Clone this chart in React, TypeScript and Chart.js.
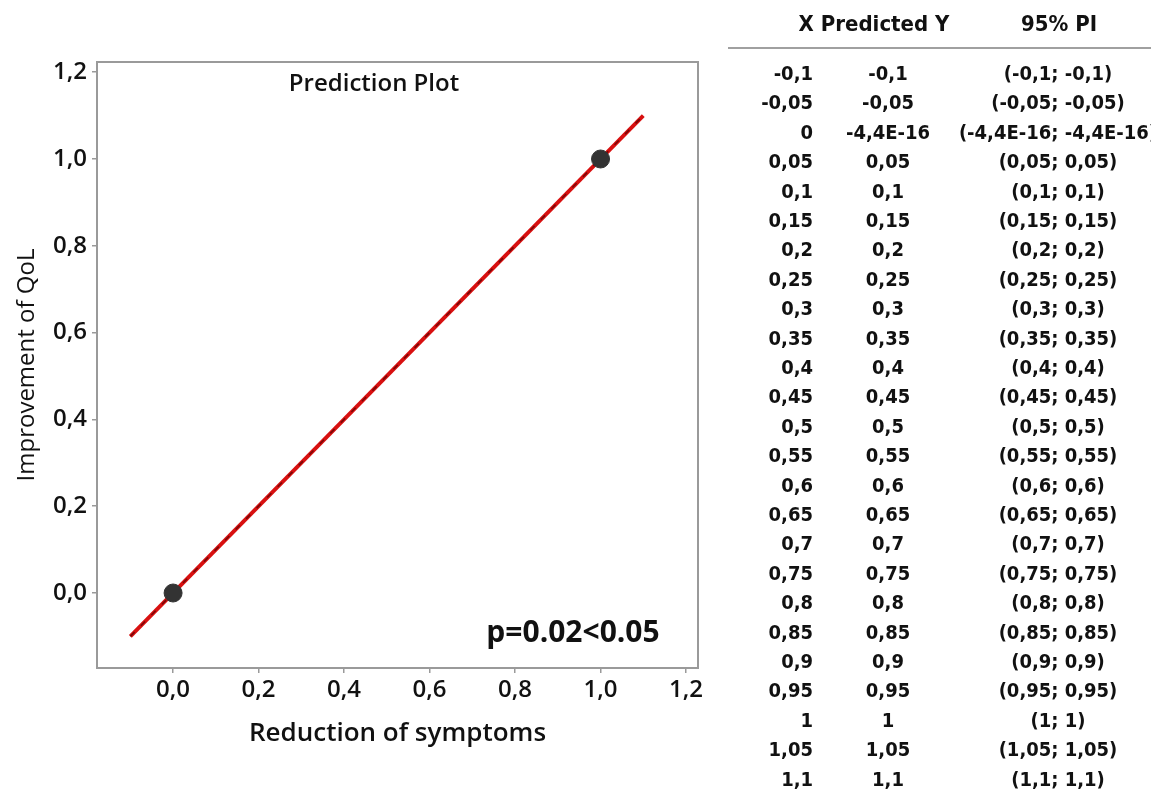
import React, { useEffect, useRef } from "react";
import { Chart, registerables } from "chart.js";

Chart.register(...registerables);

// Fitted line endpoints and observed points
const lineX = [-0.1, 1.1];
const lineY = [-0.1, 1.1];
const pointX = [0, 1];
const pointY = [0, 1];
const tickValues = [0, 0.2, 0.4, 0.6, 0.8, 1.0, 1.2];

// Prediction table
const tableX = ["-0,1", "-0,05", "0", "0,05", "0,1", "0,15", "0,2", "0,25", "0,3", "0,35", "0,4", "0,45", "0,5", "0,55", "0,6", "0,65", "0,7", "0,75", "0,8", "0,85", "0,9", "0,95", "1", "1,05", "1,1"];
const tablePred = ["-0,1", "-0,05", "-4,4E-16", "0,05", "0,1", "0,15", "0,2", "0,25", "0,3", "0,35", "0,4", "0,45", "0,5", "0,55", "0,6", "0,65", "0,7", "0,75", "0,8", "0,85", "0,9", "0,95", "1", "1,05", "1,1"];
const tablePI = ["(-0,1; -0,1)", "(-0,05; -0,05)", "(-4,4E-16; -4,4E-16)", "(0,05; 0,05)", "(0,1; 0,1)", "(0,15; 0,15)", "(0,2; 0,2)", "(0,25; 0,25)", "(0,3; 0,3)", "(0,35; 0,35)", "(0,4; 0,4)", "(0,45; 0,45)", "(0,5; 0,5)", "(0,55; 0,55)", "(0,6; 0,6)", "(0,65; 0,65)", "(0,7; 0,7)", "(0,75; 0,75)", "(0,8; 0,8)", "(0,85; 0,85)", "(0,9; 0,9)", "(0,95; 0,95)", "(1; 1)", "(1,05; 1,05)", "(1,1; 1,1)"];

const FONT = "'Open Sans', 'Noto Sans', sans-serif";
const TFONT = "'DejaVu Sans Condensed', 'DejaVu Sans', Verdana, sans-serif";

const fmt = (v: number) => v.toFixed(1).replace(".", ",");

const framePlugin = {
  id: "frame",
  afterDraw(chart: any) {
    const { ctx, chartArea } = chart;
    ctx.save();
    ctx.strokeStyle = "#9a9a9a";
    ctx.lineWidth = 2;
    ctx.strokeRect(chartArea.left, chartArea.top, chartArea.right - chartArea.left, chartArea.bottom - chartArea.top);
    ctx.fillStyle = "#111";
    ctx.textAlign = "center";
    ctx.textBaseline = "middle";
    ctx.font = `600 24px ${FONT}`;
    ctx.fillText("Prediction Plot", chartArea.left + 277, chartArea.top + 22);
    ctx.font = `700 30px ${FONT}`;
    ctx.fillText("p=0.02<0.05", chartArea.left + 476, chartArea.top + 571);
    ctx.restore();
  },
};

export default function App() {
  const ref = useRef<HTMLCanvasElement>(null);
  useEffect(() => {
    if (!ref.current) return;
    const chart = new Chart(ref.current, {
      type: "scatter",
      data: {
        datasets: [
          {
            type: "line",
            label: "fit",
            data: lineX.map((x, i) => ({ x, y: lineY[i] })),
            borderColor: "#d81010",
            borderWidth: 4,
            pointRadius: 0,
            order: 3,
          },
          {
            type: "line",
            label: "fitdash",
            data: lineX.map((x, i) => ({ x, y: lineY[i] })),
            borderColor: "rgba(60,0,0,0.6)",
            borderWidth: 1.6,
            borderDash: [6, 9],
            pointRadius: 0,
            order: 2,
          },
          {
            label: "obs",
            data: pointX.map((x, i) => ({ x, y: pointY[i] })),
            backgroundColor: "#333333",
            borderColor: "#333333",
            pointRadius: 9,
            order: 1,
          },
        ],
      },
      options: {
        animation: false,
        responsive: false,
        layout: { padding: { left: 0, right: 22, top: 62, bottom: 44 } },
        plugins: { legend: { display: false }, tooltip: { enabled: false } },
        scales: {
          x: {
            type: "linear",
            min: -0.178,
            max: 1.228,
            afterBuildTicks: (s: any) => { s.ticks = tickValues.map((v) => ({ value: v })); },
            afterFit: (s: any) => { s.height = 81; },
            grid: { drawOnChartArea: false, drawTicks: true, tickLength: 5, color: "#9a9a9a", lineWidth: 1.5 },
            border: { display: false },
            ticks: { color: "#111", padding: 3, font: { family: FONT, size: 24, weight: "600" }, callback: (v: any) => fmt(Number(v)), maxRotation: 0 },
            title: { display: true, text: "Reduction of symptoms", color: "#111", font: { family: FONT, size: 26, weight: "600" }, padding: { top: 0, bottom: 0 } },
          },
          y: {
            type: "linear",
            min: -0.1728,
            max: 1.2235,
            afterBuildTicks: (s: any) => { s.ticks = tickValues.map((v) => ({ value: v })); },
            afterFit: (s: any) => { s.width = 97; },
            grid: { drawOnChartArea: false, drawTicks: true, tickLength: 5, color: "#9a9a9a", lineWidth: 1.5 },
            border: { display: false },
            ticks: { color: "#111", padding: 5, font: { family: FONT, size: 24, weight: "600" }, callback: (v: any) => fmt(Number(v)) },
            title: { display: true, text: "Improvement of QoL", color: "#111", font: { family: FONT, size: 24, weight: "500" }, padding: { top: 13, bottom: 0 } },
          },
        },
      },
      plugins: [framePlugin],
    } as any);
    return () => chart.destroy();
  }, []);

  const rowTop = 73;
  const rowStep = 29.4;
  const cell = (extra: any) => ({ position: "absolute" as const, transform: "translateY(-50%)", ...extra });

  return (
    <div style={{ position: "absolute", left: 0, top: 0, width: 1151, height: 793, overflow: "hidden", background: "#fff" }}>
      <canvas ref={ref} width={720} height={793} style={{ position: "absolute", left: 0, top: 0, width: 720, height: 793 }} />
      <div style={{ position: "absolute", left: 0, top: 0, width: 1151, height: 793, fontFamily: TFONT, fontStretch: "condensed", fontWeight: 700, fontSize: 20, lineHeight: "24px", color: "#111", whiteSpace: "nowrap" }}>
        <div style={cell({ left: 774, width: 200, top: 24, textAlign: "center", fontSize: 22 })}>X Predicted Y</div>
        <div style={cell({ left: 999, width: 120, top: 24, textAlign: "center", fontSize: 22 })}>95% PI</div>
        <div style={{ position: "absolute", left: 728, width: 423, top: 47, height: 2, background: "#a0a0a0" }} />
        {tableX.map((x, i) => (
          <React.Fragment key={i}>
            <div style={cell({ right: 1151 - 813, top: rowTop + i * rowStep, textAlign: "right" })}>{x}</div>
            <div style={cell({ left: 828, width: 120, top: rowTop + i * rowStep, textAlign: "center" })}>{tablePred[i]}</div>
            <div style={cell({ left: 938, width: 240, top: rowTop + i * rowStep, textAlign: "center" })}>{tablePI[i]}</div>
          </React.Fragment>
        ))}
      </div>
    </div>
  );
}
